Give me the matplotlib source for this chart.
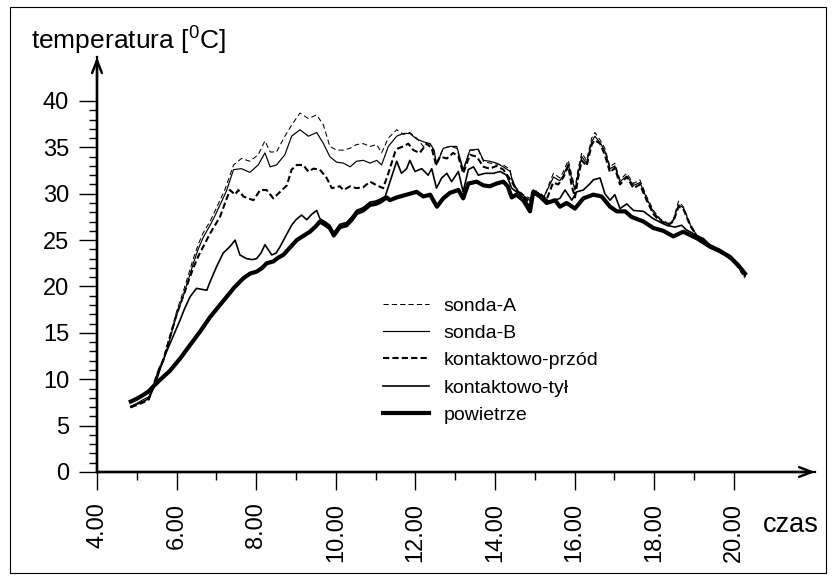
import numpy as np
import matplotlib
matplotlib.use('Agg')
import matplotlib.pyplot as plt
from matplotlib.patches import Rectangle

matplotlib.rcParams['font.family'] = 'Liberation Sans'
matplotlib.rcParams['mathtext.default'] = 'regular'

# --- data (time [h], temperature [C]) ---
t_pow = [4.85, 5.0, 5.16, 5.3, 5.42, 5.6, 5.83, 6.1, 6.34, 6.6, 6.84, 7.05, 7.26, 7.45, 7.68, 7.85,
         8.01, 8.15, 8.26, 8.43, 8.55, 8.68, 8.85, 9.02, 9.2, 9.35, 9.5, 9.6, 9.72, 9.85, 9.95, 10.1,
         10.27, 10.4, 10.52, 10.69, 10.86, 11.0, 11.11, 11.28, 11.36, 11.53, 11.78, 12.03, 12.2, 12.37,
         12.54, 12.7, 12.87, 13.08, 13.2, 13.33, 13.54, 13.71, 13.87, 14.04, 14.21, 14.32, 14.42, 14.54,
         14.71, 14.88, 14.96, 15.13, 15.3, 15.51, 15.63, 15.8, 16.01, 16.22, 16.47, 16.68, 16.89, 17.06,
         17.27, 17.43, 17.73, 17.98, 18.23, 18.48, 18.73, 19.07, 19.4, 19.65, 19.9, 20.11, 20.28]
T_pow = [7.6, 7.9, 8.3, 8.7, 9.25, 10.0, 10.9, 12.3, 13.7, 15.2, 16.7, 17.8, 18.9, 19.9, 20.9, 21.4,
         21.6, 22.0, 22.5, 22.7, 23.1, 23.4, 24.2, 25.0, 25.5, 25.9, 26.5, 27.0, 26.7, 26.3, 25.5, 26.4,
         26.6, 27.2, 27.9, 28.2, 28.8, 28.9, 29.1, 29.6, 29.3, 29.6, 29.9, 30.2, 29.7, 29.9,
         28.6, 29.5, 30.1, 30.4, 29.5, 31.1, 31.3, 30.9, 30.8, 31.1, 31.3, 30.8, 29.6, 29.9,
         29.3, 28.1, 30.2, 29.7, 29.0, 29.3, 28.6, 29.0, 28.4, 29.5, 29.9, 29.7, 28.6, 28.1,
         28.1, 27.5, 27.0, 26.3, 26.0, 25.4, 25.9, 25.2, 24.3, 23.8, 23.2, 22.3, 21.4]

t_tyl = [4.85, 5.0, 5.16, 5.3, 5.46, 5.6, 5.75, 5.9, 6.09, 6.2, 6.34, 6.5, 6.62, 6.76, 6.84, 7.0,
         7.17, 7.34, 7.47, 7.59, 7.76, 7.9, 8.01, 8.12, 8.22, 8.39, 8.5, 8.6, 8.75, 8.89, 9.0, 9.14,
         9.27, 9.4, 9.52, 9.6, 9.72, 9.85, 9.95, 10.1, 10.27, 10.4, 10.52, 10.69, 10.86, 11.0, 11.11,
         11.24, 11.4, 11.53, 11.65, 11.78, 11.86, 11.99, 12.16, 12.32, 12.41, 12.53, 12.66, 12.79, 12.91,
         13.08, 13.2, 13.33, 13.46, 13.58, 13.75, 13.96, 14.13, 14.29, 14.42, 14.54, 14.71, 14.88, 14.96,
         15.13, 15.38, 15.63, 15.76, 15.93, 16.05, 16.22, 16.39, 16.47, 16.64, 16.76, 16.89, 17.01, 17.14,
         17.31, 17.48, 17.73, 17.98, 18.31, 18.52, 18.69, 18.81, 19.07, 19.4, 19.65, 19.9, 20.11, 20.28]
T_tyl = [7.0, 7.3, 7.6, 7.9, 9.4, 11.3, 13.0, 14.5, 16.4, 17.6, 18.9, 19.8, 19.7, 19.6, 20.5, 22.1,
         23.6, 24.3, 25.0, 23.4, 23.0, 22.9, 23.0, 23.6, 24.5, 23.4, 23.6, 24.3, 25.5, 26.6, 27.2, 27.7,
         27.2, 27.8, 28.2, 27.3, 27.0, 26.6, 25.8, 26.7, 26.9, 27.5, 28.2, 28.5, 29.1, 29.2, 29.4,
         29.7, 31.8, 33.5, 32.2, 32.7, 33.6, 32.4, 32.7, 32.0, 32.7, 30.6, 31.7, 32.2, 31.3,
         32.4, 30.2, 32.6, 32.9, 32.0, 32.2, 32.2, 32.4, 32.0, 30.6, 30.2, 29.6, 28.6, 30.4,
         29.9, 29.1, 29.5, 30.4, 29.3, 30.2, 30.4, 31.1, 31.5, 31.7, 30.0, 29.3, 29.9, 28.4,
         28.9, 28.2, 28.1, 27.3, 26.6, 26.4, 26.6, 26.1, 25.5, 24.5, 24.0, 23.3, 22.4, 21.2]

t_przod = [4.85, 5.0, 5.16, 5.3, 5.42, 5.55, 5.67, 5.85, 6.0, 6.17, 6.3, 6.42, 6.55, 6.67, 6.84, 6.95,
           7.09, 7.2, 7.34, 7.47, 7.55, 7.68, 7.93, 8.1, 8.26, 8.43, 8.6, 8.77, 8.89, 9.02, 9.18, 9.31,
           9.44, 9.6, 9.77, 9.9, 10.1, 10.19, 10.36, 10.52, 10.69, 10.86, 11.03, 11.19, 11.32, 11.49,
           11.57, 11.7, 11.82, 11.95, 12.11, 12.28, 12.41, 12.52, 12.62, 12.79, 12.95, 13.08, 13.2, 13.37,
           13.54, 13.71, 13.87, 14.04, 14.21, 14.42, 14.54, 14.71, 14.88, 14.96, 15.13, 15.3, 15.46, 15.59,
           15.72, 15.84, 15.93, 16.01, 16.09, 16.18, 16.3, 16.43, 16.51, 16.64, 16.76, 16.89, 17.01, 17.14,
           17.31, 17.48, 17.64, 17.81, 17.98, 18.15, 18.35, 18.48, 18.61, 18.73, 18.9, 19.07, 19.23, 19.4,
           19.65, 19.9, 20.11, 20.28]
T_przod = [7.0, 7.2, 7.5, 7.8, 9.4, 11.0, 12.1, 14.8, 17.0, 19.0, 20.6, 22.0, 23.3, 24.3, 25.7, 26.5,
           27.5, 28.8, 30.4, 29.9, 30.4, 29.7, 29.3, 30.4, 30.4, 29.5, 30.2, 30.9, 32.6, 33.1, 33.1, 32.4,
           32.7, 32.6, 31.7, 30.6, 30.8, 30.4, 30.8, 30.6, 30.7, 31.3, 30.9, 30.6, 32.2, 34.5,
           34.9, 35.1, 35.4, 34.7, 34.4, 35.4, 34.9, 33.1, 34.0, 33.8, 34.4, 34.0, 32.2, 34.2,
           34.0, 32.9, 32.7, 33.0, 32.6, 31.3, 30.4, 29.7, 29.0, 30.2, 30.0, 29.4, 31.2, 31.0,
           31.8, 33.0, 30.8, 29.6, 31.8, 33.6, 33.0, 35.3, 35.8, 35.4, 34.2, 32.3, 32.8, 31.0,
           31.8, 30.6, 31.0, 29.3, 27.8, 27.0, 26.6, 27.0, 28.6, 28.4, 26.6, 25.4, 25.1, 24.4,
           23.8, 23.0, 22.2, 21.0]

t_sonda = [4.85, 5.0, 5.16, 5.3, 5.42, 5.55, 5.67, 5.85, 6.0, 6.17, 6.3, 6.42, 6.55, 6.67, 6.84, 6.95,
           7.09, 7.2, 7.26, 7.43, 7.63, 7.84, 8.05, 8.22, 8.35, 8.51, 8.72, 8.89, 9.1, 9.31, 9.52, 9.69,
           9.85, 10.02, 10.19, 10.36, 10.52, 10.69, 10.86, 11.03, 11.15, 11.32, 11.53, 11.7, 11.86, 12.03,
           12.2, 12.37, 12.47, 12.53, 12.7, 12.87, 13.04, 13.2, 13.37, 13.58, 13.71, 13.87, 14.04, 14.21,
           14.38, 14.42, 14.54, 14.71, 14.88, 15.05, 15.21, 15.38, 15.47, 15.63, 15.72, 15.84, 15.93, 16.01,
           16.09, 16.18, 16.3, 16.43, 16.51, 16.64, 16.76, 16.89, 17.01, 17.14, 17.31, 17.48, 17.64, 17.81,
           17.98, 18.15, 18.35, 18.48, 18.61, 18.73, 18.9, 19.07, 19.23, 19.4, 19.65, 19.9, 20.11, 20.28]
T_sondaA = [6.9, 7.3, 7.7, 8.0, 9.4, 11.1, 12.3, 15.0, 17.3, 19.5, 21.3, 23.0, 24.6, 25.8, 27.0, 28.0,
            29.3, 30.3, 31.0, 33.1, 33.8, 33.5, 34.2, 35.7, 34.5, 34.5, 36.2, 37.4, 38.7, 38.1, 38.5, 37.4,
            35.1, 34.7, 34.7, 34.9, 35.3, 35.4, 35.1, 35.3, 34.4, 36.0, 36.9, 36.4, 36.6, 36.0,
            35.1, 35.4, 34.5, 33.3, 34.9, 35.1, 34.9, 32.4, 34.7, 34.7, 33.5, 33.3, 33.2, 33.1,
            32.6, 31.5, 30.6, 29.9, 29.5, 30.4, 29.3, 31.3, 32.2, 31.7, 32.4, 33.6, 32.0, 30.6,
            32.7, 34.4, 33.6, 36.0, 36.6, 35.8, 34.9, 32.9, 33.3, 31.5, 32.2, 31.1, 31.5, 29.7,
            28.2, 27.3, 26.8, 27.2, 29.2, 28.6, 26.8, 25.5, 25.2, 24.5, 23.7, 23.0, 22.0, 20.9]
T_sondaB = [7.1, 7.4, 7.8, 8.1, 9.3, 10.9, 12.0, 14.6, 16.9, 19.0, 20.8, 22.5, 24.1, 25.3, 26.6, 27.5,
            28.8, 29.8, 30.4, 32.6, 32.7, 32.3, 33.1, 34.4, 32.9, 33.1, 34.2, 36.2, 36.9, 36.2, 36.6, 35.4,
            34.0, 33.4, 33.3, 32.9, 33.5, 33.6, 33.3, 33.6, 33.1, 35.1, 36.2, 36.5, 36.5, 35.9,
            35.6, 35.4, 34.7, 33.1, 34.9, 35.1, 35.1, 32.6, 34.7, 34.8, 33.6, 33.5, 33.3, 32.9,
            32.4, 31.7, 30.4, 29.8, 29.3, 30.2, 29.5, 31.0, 31.8, 31.4, 32.0, 33.2, 31.6, 30.4,
            32.2, 34.0, 33.3, 35.6, 36.2, 35.5, 34.6, 32.7, 33.0, 31.3, 31.9, 30.9, 31.2, 29.5,
            28.0, 27.2, 26.7, 27.1, 28.8, 28.5, 26.7, 25.5, 25.2, 24.5, 23.8, 23.1, 22.2, 21.1]

x_major = [4, 6, 8, 10, 12, 14, 16, 18, 20]
x_labels = ['%.2f' % v for v in x_major]
y_major = [0, 5, 10, 15, 20, 25, 30, 35, 40]

W, H = 832, 580
fig = plt.figure(figsize=(W / 100, H / 100), dpi=100)
# axes origin at (4, 0), arrow tips at the top/right edge of the axes
ax = fig.add_axes([97 / W, 1 - 472 / H, 718 / W, 415 / H])
ax.set_xlim(4, 22.04)
ax.set_ylim(0, 44.74)

ax.plot(t_sonda, T_sondaA, c='k', lw=0.75, ls=(0, (5, 3)), label='sonda-A')
ax.plot(t_sonda, T_sondaB, c='k', lw=0.85, ls='-', label='sonda-B')
ax.plot(t_przod, T_przod, c='k', lw=1.5, ls=(0, (3, 1.5)), label='kontaktowo-przód')
ax.plot(t_tyl, T_tyl, c='k', lw=1.2, ls='-', label='kontaktowo-tył')
ax.plot(t_pow, T_pow, c='k', lw=3.0, ls='-', label='powietrze')

for side in ['top', 'right']:
    ax.spines[side].set_visible(False)
for side in ['left', 'bottom']:
    ax.spines[side].set_linewidth(1.6)

ax.set_xticks(x_major)
ax.set_xticklabels(x_labels, rotation=90, va='top', ha='center')
ax.set_xticks(np.arange(5, 20, 2), minor=True)
ax.set_yticks(y_major)
ax.set_yticks(np.arange(1, 40, 1), minor=True)
ax.tick_params(which='major', length=13, width=1.0, labelsize=17)
ax.tick_params(which='minor', length=5.5, width=1.0)
ax.tick_params(axis='x', which='major', pad=9)
ax.tick_params(axis='y', which='major', pad=7)

# axis arrows
arrow = dict(arrowstyle='->,head_length=0.9,head_width=0.35', lw=1.8, color='k', shrinkA=0, shrinkB=0)
ax.annotate('', xy=(1, 0), xytext=(0, 0), xycoords='axes fraction', arrowprops=arrow, annotation_clip=False)
ax.annotate('', xy=(0, 1), xytext=(0, 0), xycoords='axes fraction', arrowprops=arrow, annotation_clip=False)

fig.text(31 / W, 1 - 50 / H, 'temperatura [$^{0}$C]', fontsize=19, va='baseline', ha='left')
fig.text(763 / W, 1 - 532 / H, 'czas', fontsize=19.5, va='baseline', ha='left')

ax.legend(loc='upper left', bbox_to_anchor=(383 / W, 1 - 297 / H), bbox_transform=fig.transFigure,
          frameon=False, fontsize=14, handlelength=2.35, handletextpad=0.75, labelspacing=0.5,
          borderpad=0, borderaxespad=0)

# outer frame
fig.patches.append(Rectangle((10 / W, 1 - 573 / H), 816 / W, 566 / H, transform=fig.transFigure,
                             fill=False, lw=0.8, ec='k'))

fig.savefig('out.png', dpi=100)
